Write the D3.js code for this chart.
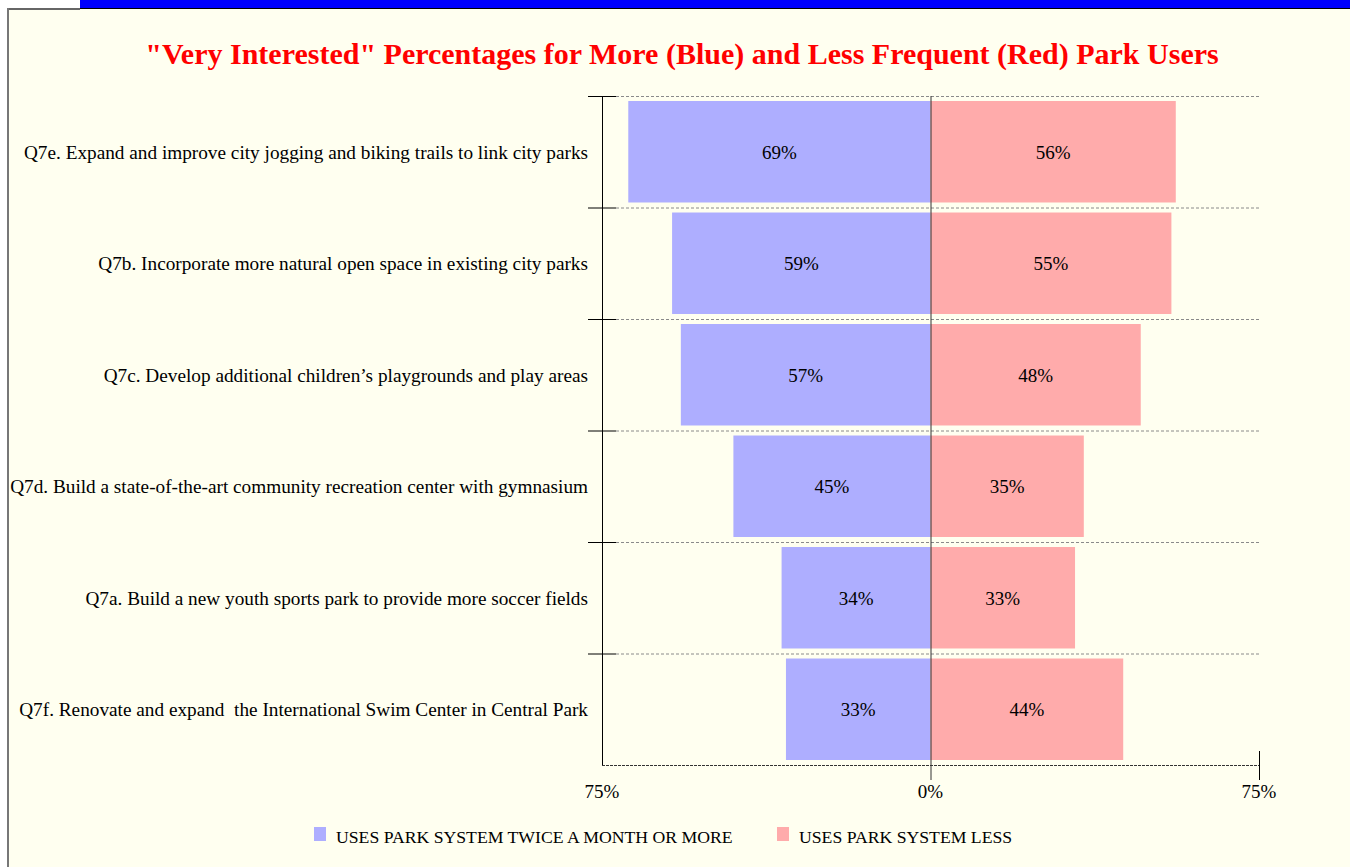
<!DOCTYPE html>
<html>
<head>
<meta charset="utf-8">
<script src="https://cdn.jsdelivr.net/npm/d3@7"></script>
<style>
  html, body { margin: 0; padding: 0; background: #ffffff; }
  svg { display: block; }
  text { font-family: "Liberation Serif", "Times New Roman", serif; }
</style>
</head>
<body>
<svg id="chart" width="1350" height="867"></svg>
<script>
// Survey items, top to bottom
const categories = [
  "Q7e. Expand and improve city jogging and biking trails to link city parks",
  "Q7b. Incorporate more natural open space in existing city parks",
  "Q7c. Develop additional children\u2019s playgrounds and play areas",
  "Q7d. Build a state-of-the-art community recreation center with gymnasium",
  "Q7a. Build a new youth sports park to provide more soccer fields",
  "Q7f. Renovate and expand  the International Swim Center in Central Park"
];
// "Very interested" share (%) for each group
const frequentUsers = [69, 59, 57, 45, 34, 33];
const lessFrequentUsers = [56, 55, 48, 35, 33, 44];
const tickValues = [-75, 0, 75];
const tickLabels = ["75%", "0%", "75%"];
const seriesNames = ["USES PARK SYSTEM TWICE A MONTH OR MORE", "USES PARK SYSTEM LESS"];
const titleText = "\"Very Interested\" Percentages for More (Blue) and Less Frequent (Red) Park Users";

const blue = "#aeaeff", red = "#ffabab";
const svg = d3.select("#chart");

// Page frame: blue banner strip and the ivory panel
svg.append("rect").attr("x", 80).attr("y", 0).attr("width", 1270).attr("height", 8).attr("fill", "#0000ff");
svg.append("line").attr("x1", 80).attr("x2", 1350).attr("y1", 8.5).attr("y2", 8.5).attr("stroke", "#000").attr("stroke-width", 1);
svg.append("rect").attr("x", 8).attr("y", 9).attr("width", 1342).attr("height", 858).attr("fill", "#fffff0");
svg.append("line").attr("x1", 8).attr("x2", 80).attr("y1", 9).attr("y2", 9).attr("stroke", "#666").attr("stroke-width", 2);
svg.append("line").attr("x1", 8).attr("x2", 8).attr("y1", 8).attr("y2", 867).attr("stroke", "#777").attr("stroke-width", 2);

// Title
svg.append("text")
  .attr("x", 682).attr("y", 64)
  .attr("text-anchor", "middle")
  .attr("font-size", 30).attr("font-weight", "bold")
  .attr("fill", "#ff0000")
  .text(titleText);

// Scales
const x = d3.scaleLinear().domain([-75, 75]).range([602, 1259]);
const y = d3.scaleBand().domain(categories).range([96, 765]).padding(0);
const inset = y.bandwidth() * 0.045;

const g = svg.append("g");

// Dashed gridlines at band boundaries
g.selectAll("line.grid")
  .data(categories)
  .join("line")
  .attr("class", "grid")
  .attr("x1", 616).attr("x2", x(75))
  .attr("y1", d => y(d) + 0.5).attr("y2", d => y(d) + 0.5)
  .attr("stroke", "#8a8a8a").attr("stroke-width", 1)
  .attr("stroke-dasharray", "3,2");

// Bars: frequent users to the left, less frequent users to the right
const rows = categories.map((c, i) => ({ c, more: frequentUsers[i], less: lessFrequentUsers[i] }));

g.selectAll("rect.more")
  .data(rows)
  .join("rect")
  .attr("class", "more")
  .attr("x", d => x(-d.more)).attr("width", d => x(0) - x(-d.more))
  .attr("y", d => y(d.c) + inset).attr("height", y.bandwidth() - 2 * inset)
  .attr("fill", blue);

g.selectAll("rect.less")
  .data(rows)
  .join("rect")
  .attr("class", "less")
  .attr("x", x(0)).attr("width", d => x(d.less) - x(0))
  .attr("y", d => y(d.c) + inset).attr("height", y.bandwidth() - 2 * inset)
  .attr("fill", red);

// Value labels centered in each bar
g.selectAll("text.more")
  .data(rows)
  .join("text")
  .attr("class", "more")
  .attr("x", d => (x(-d.more) + x(0)) / 2)
  .attr("y", d => y(d.c) + y.bandwidth() / 2 + 7)
  .attr("text-anchor", "middle").attr("font-size", 19).attr("fill", "#000")
  .text(d => d.more + "%");

g.selectAll("text.less")
  .data(rows)
  .join("text")
  .attr("class", "less")
  .attr("x", d => (x(d.less) + x(0)) / 2)
  .attr("y", d => y(d.c) + y.bandwidth() / 2 + 7)
  .attr("text-anchor", "middle").attr("font-size", 19).attr("fill", "#000")
  .text(d => d.less + "%");

// Bottom axis: dashed baseline with ticks and labels
g.append("line")
  .attr("x1", x(-75)).attr("x2", x(75))
  .attr("y1", 765.5).attr("y2", 765.5)
  .attr("stroke", "#333").attr("stroke-width", 1).attr("stroke-dasharray", "3,1");

// Zero line spanning the plot and extending below the axis
g.append("line")
  .attr("x1", x(0) + 0.5).attr("x2", x(0) + 0.5)
  .attr("y1", 96).attr("y2", 780)
  .attr("stroke", "#333").attr("stroke-width", 1);

g.append("line")
  .attr("x1", x(75) + 0.5).attr("x2", x(75) + 0.5)
  .attr("y1", 751).attr("y2", 780)
  .attr("stroke", "#000").attr("stroke-width", 1);

g.selectAll("text.tick")
  .data(tickValues)
  .join("text")
  .attr("class", "tick")
  .attr("x", d => x(d)).attr("y", 798)
  .attr("text-anchor", "middle").attr("font-size", 19).attr("fill", "#000")
  .text((d, i) => tickLabels[i]);

// Left category axis
g.append("line")
  .attr("x1", x(-75) + 0.5).attr("x2", x(-75) + 0.5)
  .attr("y1", 96).attr("y2", 765)
  .attr("stroke", "#000").attr("stroke-width", 1);

g.selectAll("line.ytick")
  .data(categories)
  .join("line")
  .attr("class", "ytick")
  .attr("x1", 588).attr("x2", 616)
  .attr("y1", d => y(d) + 0.5).attr("y2", d => y(d) + 0.5)
  .attr("stroke", "#000").attr("stroke-width", 1);

g.selectAll("text.cat")
  .data(categories)
  .join("text")
  .attr("class", "cat")
  .attr("x", 588)
  .attr("y", d => y(d) + y.bandwidth() / 2 + 7)
  .attr("text-anchor", "end").attr("font-size", 19.25).attr("fill", "#000")
  .style("white-space", "pre")
  .text(d => d);

// Legend
const legendX = [314, 777];
const legendColors = [blue, red];
const legend = svg.append("g");
seriesNames.forEach((name, i) => {
  legend.append("rect")
    .attr("x", legendX[i]).attr("y", 827).attr("width", 12).attr("height", 14)
    .attr("fill", legendColors[i]);
  legend.append("text")
    .attr("x", legendX[i] + 22).attr("y", 843)
    .attr("font-size", 17.7).attr("fill", "#000")
    .text(name);
});
</script>
</body>
</html>
